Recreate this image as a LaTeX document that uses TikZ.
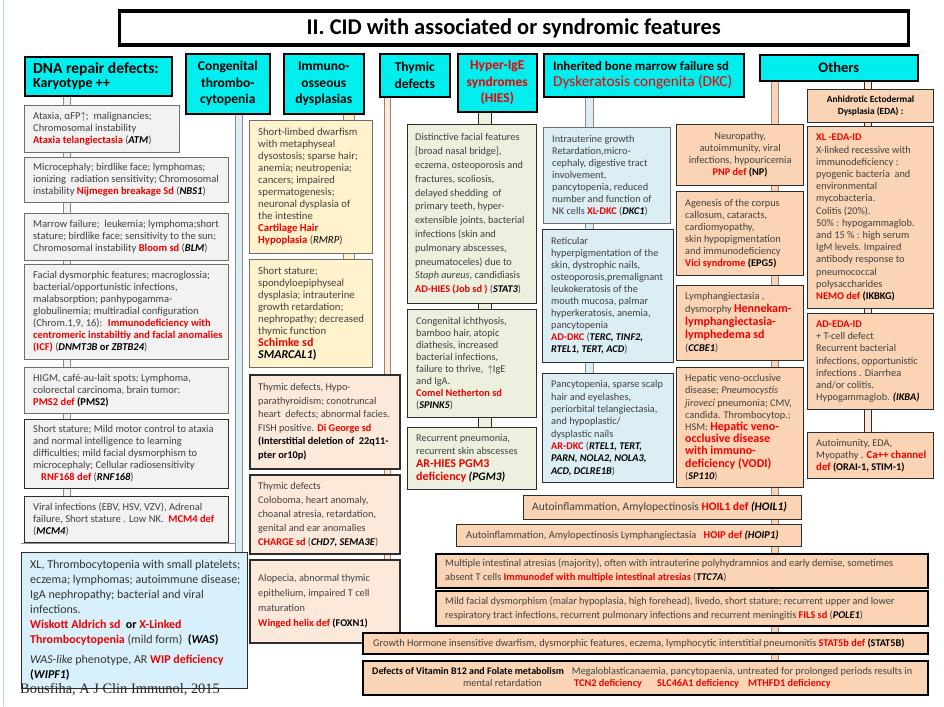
\documentclass[tikz,border=0pt]{standalone}
\usepackage{fontspec}
\setmainfont{Carlito}
\newfontfamily\citefont{Liberation Serif}
\usetikzlibrary{backgrounds}

\definecolor{hdrcyan}{RGB}{0,238,238}
\definecolor{grayfill}{RGB}{242,242,242}
\definecolor{edgegray}{RGB}{110,110,110}
\definecolor{edgedark}{RGB}{45,45,45}
\definecolor{yelfill}{RGB}{255,242,204}
\definecolor{peachlt}{RGB}{253,233,217}
\definecolor{peach}{RGB}{250,212,180}
\definecolor{greenfill}{RGB}{235,241,222}
\definecolor{bluefill}{RGB}{218,238,243}
\definecolor{wasfill}{RGB}{216,240,251}
\definecolor{txtgray}{RGB}{64,64,64}
\definecolor{alarm}{RGB}{240,0,0}
\definecolor{pipeedge}{RGB}{140,140,140}
\definecolor{thypipe}{RGB}{160,125,110}
\definecolor{edgelight}{RGB}{190,215,235}

\newcommand\fs[2]{\fontsize{#1}{#2}\selectfont}
\newcommand\rd[1]{\textcolor{alarm}{\textbf{#1}}}
\newcommand\rdl[1]{{\fs{12}{12}\textcolor{alarm}{\textbf{#1}}}}
\newcommand\gn[1]{\textcolor{black}{\textbf{\textit{#1}}}}
\newcommand\gk[1]{\textcolor{black}{\textbf{#1}}}
\newcommand\gi[1]{\textcolor{black}{\textit{#1}}}

% box with left-aligned text: name, box style, x, y, width, height, text style, text
\newcommand\lbox[8]{%
  \node[#2, anchor=north west, minimum width=#5pt, minimum height=#6pt] (#1) at (#3,#4) {};
  \node[txt, anchor=west, #7] (#1-t) at ([xshift=9pt]#1.west) {#8};}
% box with centred text
\newcommand\cbox[8]{%
  \node[#2, anchor=north west, minimum width=#5pt, minimum height=#6pt] (#1) at (#3,#4) {};
  \node[txt, anchor=center, align=center, #7] (#1-t) at (#1.center) {#8};}

\begin{document}
\begin{tikzpicture}[x=1pt, y=-1pt,
  txt/.style={align=left, inner sep=0pt, text=txtgray, font=\fs{10.3}{12}},
  dtxt/.style={font=\fs{10.5}{12}},
  hdr/.style={draw=black, line width=1.6pt, fill=hdrcyan, inner sep=0pt},
  htxt/.style={text=black, font=\fs{13.5}{16.5}\bfseries},
  dnabox/.style={draw=edgegray, line width=1.1pt, fill=grayfill, inner sep=0pt},
  dnadark/.style={dnabox, draw=edgedark},
  wasbox/.style={draw=edgedark, line width=1.1pt, fill=wasfill, inner sep=0pt},
  iobox/.style={draw=edgegray, line width=1.1pt, fill=yelfill, inner sep=0pt},
  thybox/.style={draw=edgedark, line width=1.6pt, fill=peachlt, inner sep=0pt},
  hiesbox/.style={draw=edgedark, line width=1.2pt, fill=greenfill, inner sep=0pt},
  bmbox/.style={draw=edgedark, line width=1.2pt, fill=bluefill, inner sep=0pt},
  othbox/.style={draw=edgedark, line width=1.2pt, fill=peach, inner sep=0pt},
  widebox/.style={draw=black, line width=1.5pt, fill=peach, inner sep=0pt},
  pipe/.style 2 args={draw=pipeedge, line width=0.8pt, double=#1, double distance=#2},
]
\useasboundingbox (0,0) rectangle (944,706);

% ---------- title ----------
\node[draw=black, line width=3.5pt, fill=white, anchor=north west, minimum width=789pt,
      minimum height=34pt, inner sep=0pt] (title) at (117.5,9.5) {};
\node[font=\fs{22.5}{24}\bfseries] (title-t) at (title.center) {II. CID with associated or syndromic features};

% ---------- column headers ----------
\lbox{hDNA}{hdr}{24}{56}{147}{39}{text=black, font=\fs{14}{14}, xshift=0pt}{{\fs{15.5}{14}\bfseries DNA repair defects:}\\{\bfseries Karyotype ++}}
\cbox{hCT}{hdr}{185}{53}{84}{60}{htxt}{Congenital\\thrombo-\\cytopenia}
\cbox{hIO}{hdr}{283}{53}{80}{60}{htxt}{Immuno-\\osseous\\dysplasias}
\cbox{hTD}{hdr}{379}{53}{70}{43}{htxt}{Thymic\\defects}
\cbox{hHIES}{hdr}{457}{53}{79}{58}{htxt, text=alarm}{Hyper-IgE\\syndromes\\(HIES)}
\lbox{hBM}{hdr}{543}{53}{200}{43}{text=black, font=\fs{12.8}{16}, xshift=1pt}{\textbf{Inherited bone marrow failure sd}\\{\fs{15.3}{16}\textcolor{alarm}{Dyskeratosis congenita (DKC)}}}
\cbox{hOT}{hdr}{759}{54}{158}{26}{htxt, font=\fs{14.5}{15}\bfseries}{Others}

% ---------- DNA repair defects ----------
\lbox{A1}{dnabox}{24}{105}{155}{47}{dtxt}{Ataxia, αFP$\uparrow$;~ malignancies;\\Chromosomal instability\\\rd{Ataxia telangiectasia} (\gn{ATM})}
\lbox{A2}{dnabox}{24}{157}{204}{45}{dtxt}{Microcephaly; birdlike face; lymphomas;\\ionizing~ radiation sensitivity; Chromosomal\\instability \rd{Nijmegen breakage Sd} (\gn{NBS1})}
\lbox{A3}{dnabox}{24}{213}{204}{47}{dtxt}{Marrow failure;~ leukemia; lymphoma;short\\stature; birdlike face; sensitivity to the sun;\\Chromosomal instability \rd{Bloom sd} (\gn{BLM})}
\lbox{A4}{dnabox}{24}{264}{204}{95}{dtxt}{Facial dysmorphic features; macroglossia;\\bacterial/opportunistic infections,\\malabsorption; panhypogamma-\\globulinemia; multiradial configuration\\(Chrom.1,9, 16):~ \rd{Immunodeficiency with}\\\rd{centromeric instabiltiy and facial anomalies}\\\rd{(ICF)} (\gn{DNMT3B} \gk{or} \gn{ZBTB24})}
\lbox{A5}{dnabox}{24}{367}{204}{46}{dtxt}{HIGM, café-au-lait spots; Lymphoma,\\colorectal carcinoma, brain tumor:\\\rd{PMS2 def} \gk{(PMS2)}}
\lbox{A6}{dnadark}{24}{419}{204}{69}{dtxt}{Short stature; Mild motor control to ataxia\\and normal intelligence to learning\\difficulties; mild facial dysmorphism to\\microcephaly; Cellular radiosensitivity\\\hspace*{8pt}\rd{RNF168 def} (\gn{RNF168})}
\lbox{A7}{dnadark}{24}{496}{204}{46}{dtxt}{Viral infections (EBV, HSV, VZV), Adrenal\\failure, Short stature . Low NK.~ \rd{MCM4 def}\\(\gn{MCM4})}

% ---------- congenital thrombocytopenia ----------
\lbox{WAS}{wasbox}{21}{552}{226}{136}{text=black!80, font=\fs{12}{15}}{XL, Thrombocytopenia with small platelets;\\eczema; lymphomas; autoimmune disease;\\IgA nephropathy; bacterial and viral\\infections.\\\rd{Wiskott Aldrich sd}~ \gk{or} \rd{X-Linked}\\\rd{Thrombocytopenia} (mild form)~ \gk{(\textit{WAS})}\\[5pt]\textit{WAS-like} phenotype, AR \rd{WIP deficiency}\\\gk{(\textit{WIPF1})}}
\node[anchor=base west, inner sep=0pt, font=\citefont\fs{14.4}{15}, text=black!85] (cite) at (20,693) {Bousfiha, A J Clin Immunol, 2015};

% ---------- immuno-osseous dysplasias ----------
\lbox{I1}{iobox}{249}{120}{123}{133}{font=\fs{10.7}{12}}{Short-limbed dwarfism\\with metaphyseal\\dysostosis; sparse hair;\\anemia; neutropenia;\\cancers; impaired\\spermatogenesis;\\neuronal dysplasia of\\the intestine\\\rd{Cartilage Hair}\\\rd{Hypoplasia} (\gi{RMRP})}
\lbox{I2}{iobox}{249}{259}{123}{108}{font=\fs{10.7}{12}}{Short stature;\\spondyloepiphyseal\\dysplasia; intrauterine\\growth retardation;\\nephropathy; decreased\\thymic function\\\rdl{Schimke sd}\\{\fs{12}{12}\gn{SMARCAL1}\gk{)}}}

% ---------- thymic defects ----------
\lbox{T1}{thybox}{249}{374}{150}{94}{font=\fs{10.3}{13.5}}{Thymic defects, Hypo-\\parathyroidism; conotruncal\\heart~ defects; abnormal facies.\\FISH positive. \rd{Di George sd}\\\gk{(Interstitial deletion of~ 22q11-}\\\gk{pter or10p)}}
\lbox{T2}{thybox}{249}{474}{150}{79}{font=\fs{10.3}{14}}{Thymic defects\\Coloboma, heart anomaly,\\choanal atresia, retardation,\\genital and ear anomalies\\\rd{CHARGE sd} (\gn{CHD7, SEMA3E})}
\lbox{T3}{thybox}{249}{559}{150}{83}{font=\fs{10.3}{15}}{Alopecia, abnormal thymic\\epithelium, impaired T cell\\maturation\\\rd{Winged helix def} \gk{(FOXN1)}}

% ---------- hyper-IgE syndromes ----------
\lbox{H1}{hiesbox}{407}{124}{129}{179}{font=\fs{10.3}{13.8}, xshift=-1pt}{Distinctive facial features\\{[}broad nasal bridge{]},\\eczema, osteoporosis and\\fractures, scoliosis,\\delayed shedding~ of\\primary teeth, hyper-\\extensible joints, bacterial\\infections (skin and\\pulmonary abscesses,\\pneumatoceles) due to\\\textit{Staph aureus}, candidiasis\\\rd{AD-HIES (Job sd )} (\gn{STAT3})}
\lbox{H2}{hiesbox}{407}{309}{129}{108}{}{Congenital ichthyosis,\\bamboo hair, atopic\\diathesis, increased\\bacterial infections,\\failure to thrive,~ $\uparrow$IgE\\and IgA.\\\rd{Comel Netherton sd}\\(\gn{SPINK5})}
\lbox{H3}{hiesbox}{407}{427}{129}{62}{font=\fs{10.3}{13}}{Recurrent pneumonia,\\recurrent skin abscesses\\\rdl{AR-HIES PGM3}\\\rdl{deficiency} {\fs{11.5}{12}\gn{(PGM3)}}}

% ---------- inherited bone marrow failure ----------
\lbox{B1}{bmbox, draw=edgegray}{543}{127}{127}{96}{}{Intrauterine growth\\Retardation,micro-\\cephaly, digestive tract\\involvement,\\pancytopenia, reduced\\number and function of\\NK cells \rd{XL-DKC} (\gn{DKC1})}
\lbox{B2}{bmbox}{542}{229}{131}{133}{}{Reticular\\hyperpigmentation of the\\skin, dystrophic nails,\\osteoporosis,premalignant\\leukokeratosis of the\\mouth mucosa, palmar\\hyperkeratosis, anemia,\\pancytopenia\\\rd{AD-DKC} (\gn{TERC, TINF2,}\\\gn{RTEL1, TERT, ACD})}
\lbox{B3}{bmbox}{542}{373}{131}{109}{font=\fs{10.3}{12.3}}{Pancytopenia, sparse scalp\\hair and eyelashes,\\periorbital telangiectasia,\\and hypoplastic/\\dysplastic nails\\\rd{AR-DKC} (\gn{RTEL1, TERT,}\\\gn{PARN, NOLA2, NOLA3,}\\\gn{ACD, DCLRE1B})}

% ---------- others ----------
\cbox{O1}{othbox}{676}{124}{127}{61}{}{Neuropathy,\\autoimmunity, viral\\infections, hypouricemia\\\rd{PNP def} \gk{(NP)}}
\lbox{O2}{othbox}{676}{191}{127}{84}{}{Agenesis of the corpus\\callosum, cataracts,\\cardiomyopathy,\\skin hypopigmentation\\and immunodeficiency\\\rd{Vici syndrome} \gk{(EPG5)}}
\lbox{O3}{othbox}{676}{285}{127}{75}{font=\fs{10.3}{13}}{Lymphangiectasia ,\\dysmorphy \rdl{Hennekam-}\\\rdl{lymphangiectasia-}\\\rdl{lymphedema sd}\\(\gn{CCBE1})}
\lbox{O4}{othbox}{676}{367}{127}{120}{font=\fs{10.3}{12.2}}{Hepatic veno-occlusive\\disease; \textit{Pneumocystis}\\\textit{jiroveci} pneumonia; CMV,\\candida. Thrombocytop.;\\HSM: \rdl{Hepatic veno-}\\\rdl{occlusive disease}\\\rdl{with immuno-}\\\rdl{deficiency (VODI)}\\(\gn{SP110})}
\cbox{O5}{othbox}{807}{89}{126}{33}{text=black, font=\fs{9.4}{12}\bfseries}{Anhidrotic Ectodermal\\Dysplasia (EDA) :}
\lbox{O6}{othbox}{807}{126}{126}{182}{font=\fs{10.3}{12.2}}{\rd{XL -EDA-ID}\\X-linked recessive with\\immunodeficiency :\\pyogenic bacteria~ and\\environmental\\mycobacteria.\\Colitis (20\%).\\50\% : hypogammaglob.\\and 15 \% : high serum\\IgM levels. Impaired\\antibody response to\\pneumococcal\\polysaccharides\\\rd{NEMO def} \gk{(IKBKG)}}
\lbox{O7}{othbox}{807}{313}{126}{96}{font=\fs{10.3}{12.2}}{\rd{AD-EDA-ID}\\+ T-cell defect\\Recurrent bacterial\\infections, opportunistic\\infections . Diarrhea\\and/or colitis.\\Hypogammaglob. \gn{(IKBA)}}
\lbox{O8}{othbox}{807}{432}{126}{46}{}{Autoimunity, EDA,\\Myopathy . {\fs{10.8}{12}\rd{Ca++ channel}}\\{\fs{10.8}{12}\rd{def}} \gk{(ORAI-1, STIM-1)}}

% ---------- wide rows ----------
\lbox{W1}{othbox}{523}{495}{278}{24}{font=\fs{11.5}{12}}{Autoinflammation, Amylopectinosis \rd{HOIL1 def} \gn{(HOIL1)}}
\lbox{W2}{othbox}{456}{524}{345}{22}{xshift=1pt, font=\fs{10.5}{12}}{Autoinflammation, Amylopectinosis Lymphangiectasia~~ \rd{HOIP def} \gn{(HOIP1)}}
\lbox{W3}{widebox}{435}{553}{492}{34}{font=\fs{10.3}{14}, xshift=1pt}{Multiple intestinal atresias (majority), often with intrauterine polyhydramnios and early demise, sometimes\\absent T cells \rd{Immunodef with multiple intestinal atresias} (\gn{TTC7A})}
\lbox{W4}{widebox}{435}{590}{492}{35}{font=\fs{10.3}{14}, xshift=1pt}{Mild facial dysmorphism (malar hypoplasia, high forehead), livedo, short stature; recurrent upper and lower\\respiratory tract infections, recurrent pulmonary infections and recurrent meningitis \rd{FILS sd} (\gn{POLE1})}
\lbox{W5}{widebox}{362}{632}{565}{21}{xshift=2pt}{Growth Hormone insensitive dwarfism, dysmorphic features, eczema, lymphocytic interstitial pneumonitis \rd{STAT5b def} \gk{(STAT5B)}}
\lbox{W6}{widebox}{362}{660}{565}{34}{xshift=1pt}{{\fs{10}{12}\gk{Defects of Vitamin B12 and Folate metabolism}}\hspace{8pt}Megaloblasticanaemia, pancytopaenia, untreated for prolonged periods results in\\\hspace*{91pt}\makebox[111pt][l]{mental retardation}\makebox[83pt][l]{\rd{TCN2 deficiency}}\makebox[91pt][l]{\rd{SLC46A1 deficiency}}\rd{MTHFD1 deficiency}}

% ---------- connecting tubes (behind the boxes) ----------
\begin{pgfonlayer}{background}
  \fill[white] (0,0) rectangle (944,706);
  \draw[edgelight, line width=1pt] (3,0) -- (3,706);
  \coordinate (pDNA) at (67,0);
  \coordinate (pCT) at (239,0);
  \coordinate (pIO) at (349,0);
  \coordinate (pTD) at (387.5,0);
  \coordinate (pHIES) at (485,0);
  \coordinate (pBM) at (589.5,0);
  \coordinate (pOT) at (775,0);
  \coordinate (pEDA) at (868,0);
  % thin rule closing the DNA-repair column
  \draw[pipeedge, line width=0.7pt] ([yshift=9pt]WAS.north west) -- ([yshift=9pt]WAS.north -| pCT);
  \draw[pipe={grayfill}{6.4pt}] (hDNA.south -| pDNA) -- (A7.north -| pDNA);
  \draw[pipe={bluefill}{6.4pt}] (hCT.south -| pCT) -- (WAS.north -| pCT);
  \draw[pipe={yelfill}{10.4pt}] (hIO.south -| pIO) -- (I2.north -| pIO);
  \draw[pipe={peachlt}{5.4pt}, draw=thypipe] (hTD.south -| pTD) -- (T3.north -| pTD);
  \draw[pipe={greenfill}{12.4pt}, draw=edgedark] (hHIES.south -| pHIES) -- (H3.north -| pHIES);
  \draw[pipe={bluefill}{7.4pt}] (hBM.south -| pBM) -- (B3.north -| pBM);
  \draw[pipe={peach}{6.4pt}] (hOT.south -| pOT) -- (W6.north -| pOT);
  \draw[pipe={peach!60}{6.4pt}, draw=edgedark] (hOT.south -| pEDA) -- (O8.north -| pEDA);
\end{pgfonlayer}
\end{tikzpicture}
\end{document}
